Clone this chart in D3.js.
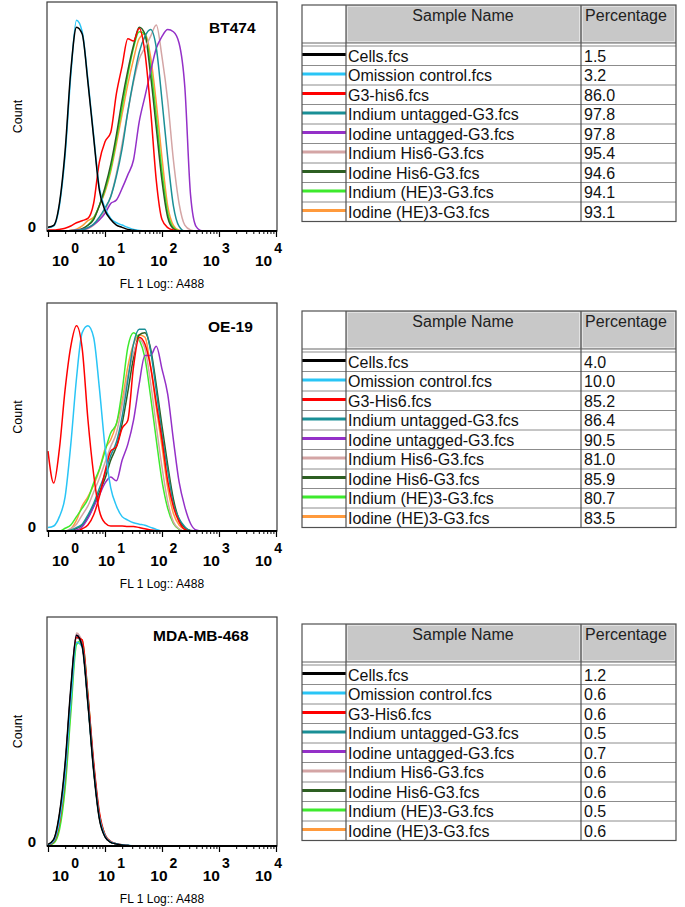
<!DOCTYPE html>
<html><head><meta charset="utf-8">
<script src="https://cdn.jsdelivr.net/npm/d3@7"></script>
<style>body{margin:0;background:#fff}svg{display:block}</style>
</head><body>
<svg id="c" width="685" height="907"></svg>
<script>
// ---------- DATA ----------
// x grid: log10 of FL1 intensity
const logGrid = [0,0.1,0.2,0.3,0.4,0.5,0.6,0.7,0.8,0.9,1.0,1.1,1.2,1.3,1.4,1.5,1.6,1.7,1.8,1.9,2.0,2.1,2.2,2.3,2.4,2.5,2.6,2.7];
const majorTicks = [1,10,100,1000,10000];
const tickExponents = ["0","1","2","3","4"];

const namesBT474 = ["Cells.fcs","Omission control.fcs","G3-his6.fcs","Indium untagged-G3.fcs","Iodine untagged-G3.fcs","Indium His6-G3.fcs","Iodine His6-G3.fcs","Indium (HE)3-G3.fcs","Iodine (HE)3-G3.fcs"];
const namesOther = ["Cells.fcs","Omission control.fcs","G3-His6.fcs","Indium untagged-G3.fcs","Iodine untagged-G3.fcs","Indium His6-G3.fcs","Iodine His6-G3.fcs","Indium (HE)3-G3.fcs","Iodine (HE)3-G3.fcs"];
const seriesColors = ["#000000","#29c5f6","#ff0000","#1a8f96","#9430c8","#d4a5a5","#2d5f22","#3dea2d","#ff9a3c"];

const pctBT474 = ["1.5","3.2","86.0","97.8","97.8","95.4","94.6","94.1","93.1"];
const pctOE19 = ["4.0","10.0","85.2","86.4","90.5","81.0","85.9","80.7","83.5"];
const pctMDA = ["1.2","0.6","0.6","0.5","0.7","0.6","0.6","0.5","0.6"];

// BT474 (% of mode-normalised count)
const bt474Cells    = [1.6,2.5,12,35,70,89,86,65,41,18,9,5,2.6,1.6,0.7,0.3,0,0,0,0,0,0,0,0,0,0,0,0];
const bt474Omission = [1.4,2.2,11,33,68,92,87,66,42,19,10,5.5,3.6,2.6,1.6,0.7,0.2,0,0,0,0,0,0,0,0,0,0,0];
const bt474G3His6   = [0.4,0.4,0.7,1.2,2.2,3.6,4.5,5.5,12,30,39,43,60,72,84,83,88.5,78,53,22,5,1.5,0.4,0,0,0,0,0];
const bt474InUnt    = [0,0,0,0,0.2,0.3,0.5,1.5,3,6,10,15,24,36,52,66,78,85,88,80,57,32,11,2,0,0,0,0];
const bt474IUnt     = [0,0,0,0,0.1,0.4,0.7,1.3,2.8,4.8,7.7,12,13.5,18.6,24.5,31,47.7,58.7,69.6,79.8,85,88,87,82,63,16,1.9,0.1];
const bt474InHis    = [0,0,0,0,0,0,0.3,1,2.5,5,9,15,25,38,52,65,75,80,85,90,76,57,31,12,2.6,0.5,0,0];
const bt474IHis     = [0,0,0,0,0,0.3,1,2.5,5,11,19,29,42,57,70,81,89,86,68,45,22,6,1,0,0,0,0,0];
const bt474InHE     = [0,0,0,0,0,0.2,0.8,2.5,5.5,11,18,27,40,54,68,80,87,86,72,50,26,8,1.5,0,0,0,0,0];
const bt474IHE      = [0,0,0,0,0.3,0.8,2.2,4.5,6,11,17,26,38,51,64,75,84,86,76,56,32,11,2.5,0.3,0,0,0,0];

// OE-19
const oe19Cells    = [35,21,36,62,81,90,80,49,25,9,3.5,2.2,2.2,2.2,2,2,1.5,1,0.4,0.1,0,0,0,0,0,0,0,0];
const oe19Omission = [1.5,2.2,6.3,15,38,67,87,90,85,63,37,19,11,6.3,4.8,3.6,3,2.5,1.6,0.7,0,0,0,0,0,0,0,0];
const oe19G3His6   = [0,0,0,0,0,0,1,2.6,7,15,26,35,37,45,48.5,72,85,82,72,56,40,22,10.6,4,0.7,0,0,0];
const oe19InUnt    = [0,0,0,0,0.5,1.5,3,7,12,18.6,25,33,39,50,66,82,88.5,88.5,79,61.5,42.6,26.6,12,5.5,1.9,0.1,0,0];
const oe19IUnt     = [0,0,0,0,0,0.4,1.9,5.5,10.6,15.7,21,23.7,22,31,38,48.5,64.5,77,77,81,71,60,40,21.5,10.6,3.3,0.4,0];
const oe19InHis    = [0,0,0,0,1,3,7,11,17,23,30,37,43,55,68,78,84,80,65,46,28,13,4,1,0,0,0,0];
const oe19IHis     = [0,0,0,0,0,1.2,2.5,6,11,17,23,31,37,47,61,76,86,87,80,64,46,29,14,5,1.5,0.2,0,0];
const oe19InHE     = [0,0,0,1.2,2.6,6.3,10,14,21,27,35,43,47,61.5,80.5,87,84,76,59,40,22,10,3.3,0.7,0,0,0,0];
const oe19IHE      = [0,0,0,0,1,4.8,11,15,20,26.6,36,40,47,57,72,82,86,85,72,54,37,19,7.7,2.6,0.7,0,0,0];

// MDA-MB-468
const mdaCells    = [0.7,2.9,14,36,69,92,87,62,33,12,4,1.6,0.9,0.4,0.2,0,0,0,0,0,0,0,0,0,0,0,0,0];
const mdaOmission = [0.5,2.2,11,31,63,89,87,63,34,13,4.5,1.8,1,0.5,0.3,0.1,0,0,0,0,0,0,0,0,0,0,0,0];
const mdaG3His6   = [0.3,1.8,10,30,64,91,90,66,37,15,5,2,1,0.5,0.2,0,0,0,0,0,0,0,0,0,0,0,0,0];
const mdaInUnt    = [0.4,2.2,12,33,66,91,88,63,34,13,4.4,1.7,0.9,0.4,0.2,0,0,0,0,0,0,0,0,0,0,0,0,0];
const mdaIUnt     = [0.4,2.4,12.5,34,67,92,88,64,35,13,4.3,1.7,0.9,0.4,0.2,0,0,0,0,0,0,0,0,0,0,0,0,0];
const mdaInHis    = [0.5,2.5,13,35,68,93,89,64,35,13.5,4.5,1.8,1,0.5,0.2,0,0,0,0,0,0,0,0,0,0,0,0,0];
const mdaIHis     = [0.5,2.6,13,34,67,92,88,63,34,12.5,4.2,1.6,0.9,0.4,0.2,0,0,0,0,0,0,0,0,0,0,0,0,0];
const mdaInHE     = [0.2,1.2,7,25,58,88,90,66,36,14,4.8,1.8,0.9,0.4,0.2,0,0,0,0,0,0,0,0,0,0,0,0,0];
const mdaIHE      = [0.3,1.5,9,28,61,89,88,65,35,13.5,4.5,1.7,0.9,0.4,0.2,0,0,0,0,0,0,0,0,0,0,0,0,0];

// ---------- LAYOUT ----------
const FONT = '"Liberation Sans", Arial, Helvetica, sans-serif';
const panels = [
  {title:"BT474", top:2, base:231, titleX:209, titleY:33, tableTop:5,
   names:namesBT474, pct:pctBT474, cellsColor:"#000000",
   series:[bt474Cells,bt474Omission,bt474G3His6,bt474InUnt,bt474IUnt,bt474InHis,bt474IHis,bt474InHE,bt474IHE]},
  {title:"OE-19", top:303, base:531, titleX:208, titleY:332, tableTop:311,
   names:namesOther, pct:pctOE19, cellsColor:"#ff0000",
   series:[oe19Cells,oe19Omission,oe19G3His6,oe19InUnt,oe19IUnt,oe19InHis,oe19IHis,oe19InHE,oe19IHE]},
  {title:"MDA-MB-468", top:617, base:846, titleX:153, titleY:641, tableTop:624,
   names:namesOther, pct:pctMDA, cellsColor:"#000000",
   series:[mdaCells,mdaOmission,mdaG3His6,mdaInUnt,mdaIUnt,mdaInHis,mdaIHis,mdaInHE,mdaIHE]}
];

const svg = d3.select("#c");
const minorTicks = [];
for (let d = 1; d < 10000; d *= 10) for (let m = 2; m <= 9; m++) minorTicks.push(d * m);

panels.forEach((p, pi) => {
  const x = d3.scaleLog().domain([1, 1e4]).range([48, 276]);
  const labelX = d3.scaleLog().domain([1, 10, 1e4]).range([52, 98, 255]);
  const y = d3.scaleLinear().domain([0, 100]).range([p.base, p.top]);
  const g = svg.append("g");

  const clipId = "clip" + pi;
  g.append("clipPath").attr("id", clipId).append("rect")
    .attr("x", 47).attr("y", p.top).attr("width", 230).attr("height", p.base - p.top + 1);

  const line = d3.line().x(d => x(d[0])).y(d => y(d[1])).curve(d3.curveMonotoneX);
  const cg = g.append("g").attr("clip-path", `url(#${clipId})`);
  d3.range(9).reverse().forEach(i => {
    const pts = logGrid.map((L, k) => [Math.pow(10, L), p.series[i][k]]);
    pts.push([1e4, 0]);
    cg.append("path").attr("d", line(pts)).attr("fill", "none")
      .attr("stroke", i === 0 ? p.cellsColor : seriesColors[i])
      .attr("stroke-width", 1.5).attr("stroke-linejoin", "round");
  });

  // frame
  g.append("rect").attr("x", 47).attr("y", p.top).attr("width", 230).attr("height", p.base - p.top)
    .attr("fill", "none").attr("stroke", "#3a3a3a").attr("stroke-width", 1.2);

  // axes
  const ax = g.append("g").attr("transform", `translate(0,${p.base})`)
    .call(d3.axisBottom(x).tickValues(majorTicks).tickSize(6).tickFormat(""));
  ax.select(".domain").attr("stroke", "#000").attr("stroke-width", 2).attr("d", "M47,0H277");
  ax.selectAll(".tick line").attr("stroke", "#000").attr("stroke-width", 1.2);
  const mx = g.append("g").attr("transform", `translate(0,${p.base})`)
    .call(d3.axisBottom(x).tickValues(minorTicks).tickSize(3).tickFormat(""));
  mx.select(".domain").remove();
  mx.selectAll(".tick line").attr("stroke", "#000").attr("stroke-width", 1);

  majorTicks.forEach((v, i) => {
    const t = g.append("text").attr("x", labelX(v)).attr("y", p.base + 35)
      .attr("font-family", FONT).attr("font-size", 15.5).attr("font-weight", "bold").attr("fill", "#000");
    t.append("tspan").text("10");
    t.append("tspan").attr("dx", 2).attr("dy", -13).attr("font-size", 14).text(tickExponents[i]);
  });

  g.append("text").attr("x", 32).attr("y", p.base + 1).attr("text-anchor", "middle")
    .attr("font-family", FONT).attr("font-size", 15).attr("font-weight", "bold").text("0");
  g.append("text").attr("transform", `translate(22,${(p.top + p.base) / 2}) rotate(-90)`)
    .attr("text-anchor", "middle").attr("font-family", FONT).attr("font-size", 12.5).text("Count");
  g.append("text").attr("x", 162).attr("y", p.base + 57).attr("text-anchor", "middle")
    .attr("font-family", FONT).attr("font-size", 12).text("FL 1 Log:: A488");
  g.append("text").attr("x", p.titleX).attr("y", p.titleY)
    .attr("font-family", FONT).attr("font-size", 15.5).attr("font-weight", "bold").text(p.title);

  // ---------- table ----------
  const T = {left: 302, right: 676, c1: 346, c2: 581, headH: 38, gap: 3, rowH: 19.5};
  const tg = svg.append("g");
  const top = p.tableTop, rs = top + T.headH + T.gap, bottom = rs + 9 * T.rowH;
  tg.append("rect").attr("x", T.left).attr("y", top).attr("width", T.right - T.left).attr("height", bottom - top).attr("fill", "#fff");
  [[T.c1, T.c2], [T.c2, T.right]].forEach(([a, b]) => {
    tg.append("rect").attr("x", a).attr("y", top).attr("width", b - a).attr("height", T.headH).attr("fill", "#c8c8c8");
    tg.append("rect").attr("x", a + 1.5).attr("y", top + 1.5).attr("width", b - a - 3).attr("height", T.headH - 3)
      .attr("fill", "none").attr("stroke", "#e2e2e2").attr("stroke-width", 1);
  });
  tg.append("line").attr("x1", T.left).attr("x2", T.right).attr("y1", top + T.headH).attr("y2", top + T.headH)
    .attr("stroke", "#666").attr("stroke-width", 1);
  for (let k = 0; k < 9; k++) {
    const ry = rs + k * T.rowH;
    tg.append("line").attr("x1", T.left).attr("x2", T.right).attr("y1", ry).attr("y2", ry)
      .attr("stroke", "#8c8c8c").attr("stroke-width", 1);
    tg.append("line").attr("x1", T.left).attr("x2", T.c1).attr("y1", ry + 8.5).attr("y2", ry + 8.5)
      .attr("stroke", seriesColors[k]).attr("stroke-width", 3);
    tg.append("text").attr("x", 348).attr("y", ry + 15.5).attr("font-family", FONT).attr("font-size", 16)
      .attr("fill", "#111").text(p.names[k]);
    tg.append("text").attr("x", 584).attr("y", ry + 15.5).attr("font-family", FONT).attr("font-size", 16)
      .attr("fill", "#111").text(p.pct[k]);
  }
  [T.c1, T.c2].forEach(cx => tg.append("line").attr("x1", cx).attr("x2", cx).attr("y1", top).attr("y2", bottom)
    .attr("stroke", "#505050").attr("stroke-width", 1.2));
  tg.append("rect").attr("x", T.left).attr("y", top).attr("width", T.right - T.left).attr("height", bottom - top)
    .attr("fill", "none").attr("stroke", "#505050").attr("stroke-width", 1.2);
  tg.append("text").attr("x", 463).attr("y", top + 16).attr("text-anchor", "middle")
    .attr("font-family", FONT).attr("font-size", 16).attr("fill", "#222").text("Sample Name");
  tg.append("text").attr("x", 626).attr("y", top + 16).attr("text-anchor", "middle")
    .attr("font-family", FONT).attr("font-size", 16).attr("fill", "#222").text("Percentage");
});
</script>
</body></html>
